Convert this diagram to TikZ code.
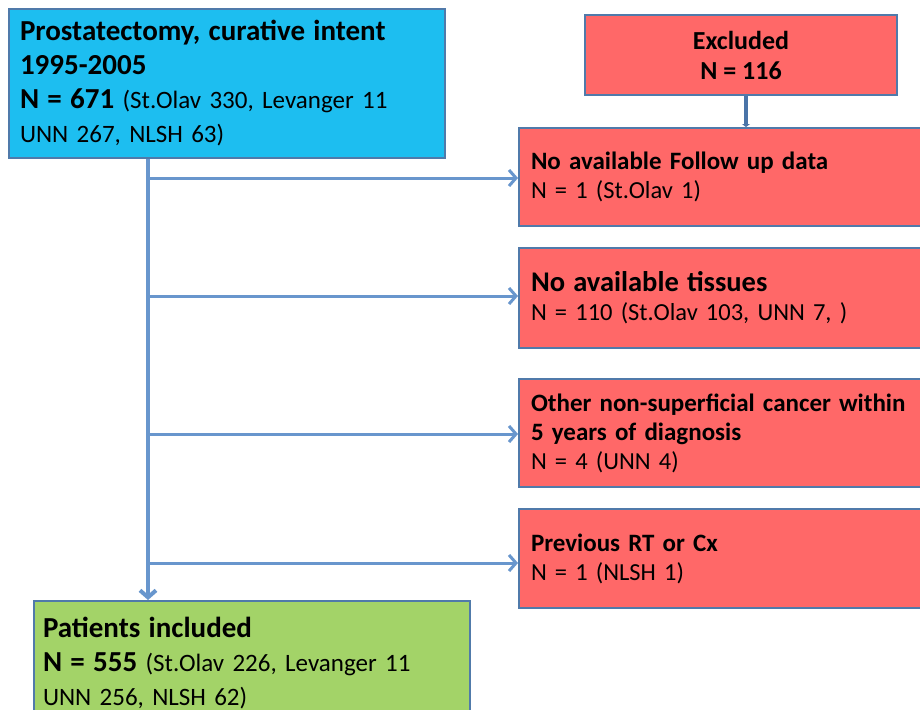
\documentclass[tikz,border=0pt]{standalone}
\usepackage{fontspec}
\setmainfont{Carlito}
\usepackage{xcolor}
\usetikzlibrary{arrows.meta,positioning}
\definecolor{startblue}{RGB}{29,190,240}
\definecolor{exclred}{RGB}{255,104,104}
\definecolor{inclgreen}{RGB}{163,211,104}
\definecolor{boxedge}{RGB}{80,122,170}
\definecolor{flowblue}{RGB}{104,150,205}
\definecolor{exclblue}{RGB}{74,116,168}
\newcommand{\bighead}[1]{{\fontsize{29}{35}\selectfont\bfseries #1}}
\tikzset{%
	startbox/.style   = {draw=boxedge, fill=startblue, line width=2pt, anchor=north west, text width=414pt, inner xsep=11pt, minimum height=149pt, align=left, font=\fontsize{25}{34}\selectfont},
	exclbox/.style    = {draw=boxedge, fill=exclred, line width=2pt, minimum width=312pt, minimum height=79pt, align=center, font=\fontsize{26}{30}\selectfont},
	reasonbox/.style  = {draw=boxedge, fill=exclred, line width=2pt, anchor=north west, text width=470pt, inner xsep=12pt, align=left, font=\fontsize{24.5}{29}\selectfont},
	inclbox/.style    = {draw=boxedge, fill=inclgreen, line width=2pt, anchor=north west, text width=418pt, inner xsep=9pt, inner ysep=16pt, align=left, font=\fontsize{25}{34}\selectfont},
	flow/.style       = {draw=flowblue, line width=3pt, -{Straight Barb[length=7pt,width=16pt]}},
	exclarrow/.style  = {draw=exclblue, line width=4pt, -{Triangle[length=3pt,width=8pt]}},
	waypoint/.style   = {coordinate},
}
\begin{document}
\begin{tikzpicture}[x=1pt,y=-1pt]
	\useasboundingbox (0,0) rectangle (920,709);
	\clip (0,0) rectangle (920,709);
	\node [startbox] (start) at (8,8) {\bighead{Prostatectomy, curative intent}\\\bighead{1995-2005}\\\bighead{N = 671} (St.Olav 330, Levanger 11\\UNN 267, NLSH 63)};
	\node [exclbox] (excl) at (741,55) {\textbf{Excluded}\\\textbf{N = 116}};
	\node [reasonbox, minimum height=98pt] (fu) at (518,127) {{\fontsize{25}{29}\selectfont\bfseries No available Follow up data}\\N = 1 (St.Olav 1)};
	\node [reasonbox, minimum height=100pt] (tis) at (518,247) {{\fontsize{28.5}{32}\selectfont\bfseries No available tissues}\\N = 110 (St.Olav 103, UNN 7, )};
	\node [reasonbox, minimum height=108pt] (oth) at (518,378) {{\fontsize{25}{29}\selectfont\bfseries Other non-superficial cancer within}\\{\fontsize{25}{29}\selectfont\bfseries 5 years of diagnosis}\\N = 4 (UNN 4)};
	\node [reasonbox, minimum height=99pt] (prev) at (518,508) {{\fontsize{25}{29}\selectfont\bfseries Previous RT or Cx}\\N = 1 (NLSH 1)};
	\node [inclbox] (incl) at (33,600) {\bighead{Patients included}\\\bighead{N = 555} (St.Olav 226, Levanger 11\\UNN 256, NLSH 62)};

	\node [waypoint] (trunk) at (148,0 |- start.south) {};
	\node [waypoint] (w1) at (148,178) {};
	\node [waypoint] (w2) at (148,296) {};
	\node [waypoint] (w3) at (148,434) {};
	\node [waypoint] (w4) at (148,563) {};

	\draw[flow, line width=4pt] (trunk) -- (trunk |- incl.north);
	\draw[flow] (w1) -- (w1 -| fu.west);
	\draw[flow] (w2) -- (w2 -| tis.west);
	\draw[flow] (w3) -- (w3 -| oth.west);
	\draw[flow] (w4) -- (w4 -| prev.west);
	\draw[exclarrow] ([xshift=5pt]excl.south) -- ([xshift=5pt]excl.south |- fu.north);
\end{tikzpicture}
\end{document}
